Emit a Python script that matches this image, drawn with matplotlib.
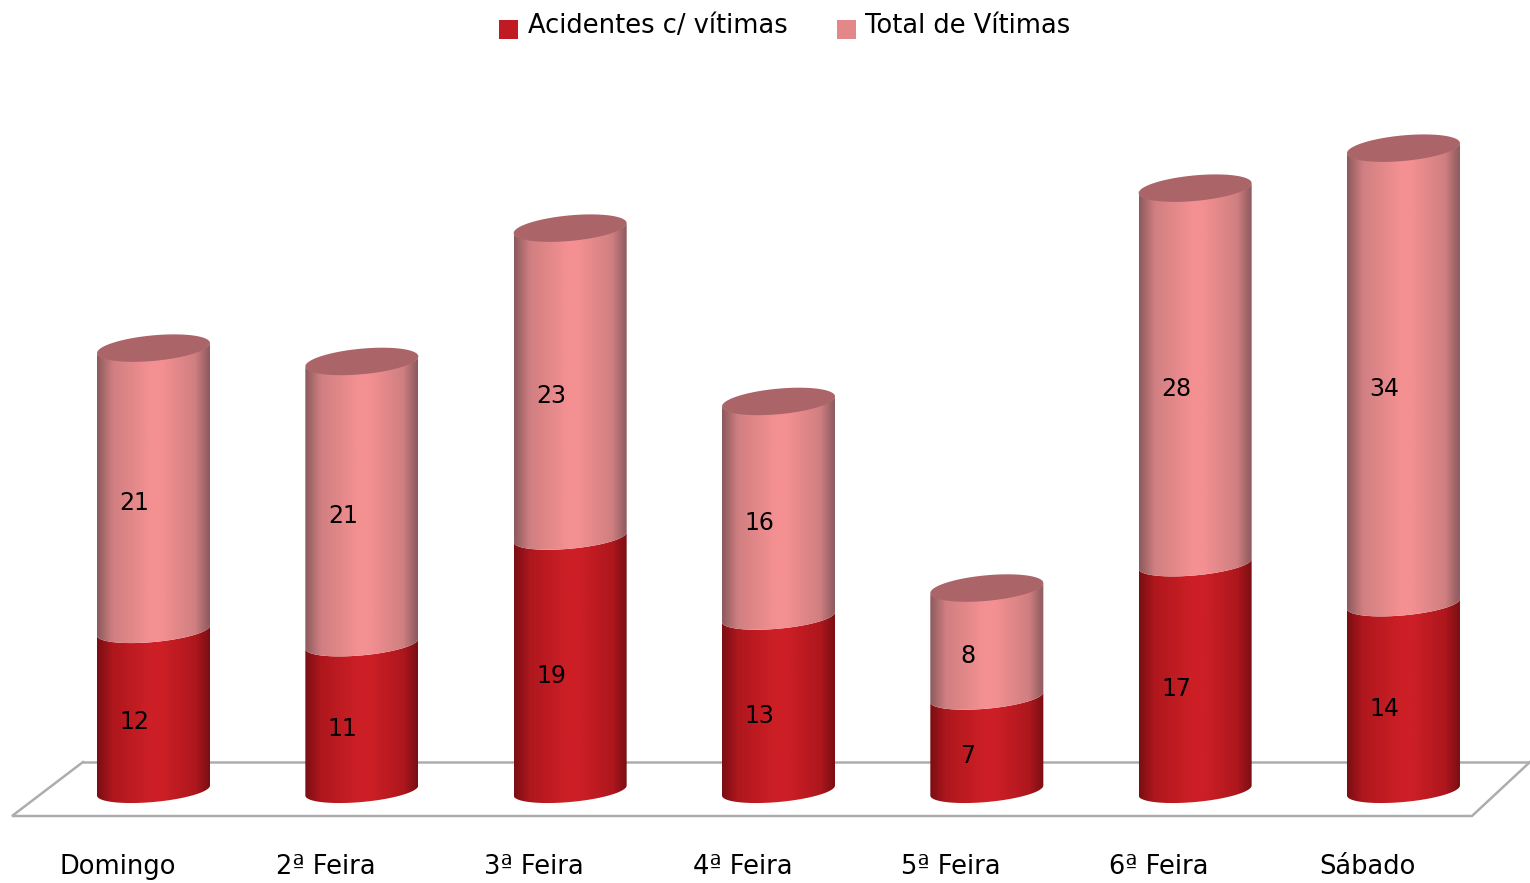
import matplotlib
matplotlib.use('Agg')
import matplotlib.pyplot as plt
import numpy as np
from matplotlib.colors import LinearSegmentedColormap
from matplotlib.patches import Patch, Polygon

dias = ['Domingo', '2ª Feira', '3ª Feira', '4ª Feira', '5ª Feira', '6ª Feira', 'Sábado']
acidentes = [12, 11, 19, 13, 7, 17, 14]
vitimas = [21, 21, 23, 16, 8, 28, 34]
nomes = ['Acidentes c/ vítimas', 'Total de Vítimas']

# pixels of the 1530x883 picture per unit of each axis
px_x = 208.33
px_y = 13.33
x0_px = 153.5
y0_px = 790.5

largura = 113 / px_x
elipse_b = 11.5 / px_y
elipse_top = 12.8 / px_y
elipse_inc = 5.0 / px_y
topo_extra = 2.5 / px_y

fig = plt.figure(figsize=(15.3, 8.83), dpi=100)
ax = fig.add_axes([0, 0, 1, 1])
ax.axis('off')


def shade_cmap(edge, mid, light):
    return LinearSegmentedColormap.from_list('c', [(0, edge), (0.14, mid), (0.47, light), (0.57, light),
                                                   (0.87, mid), (1, edge)])


cmap_red = shade_cmap('#7a0e13', '#ae171d', '#cd1f26')
cmap_pink = shade_cmap('#8c5a5d', '#d07f81', '#f49092')
grad = np.linspace(0, 1, 256).reshape(1, -1)


def front_arc(cx, y, n=60):
    t = np.linspace(np.pi, 0, n)
    xs = cx + largura / 2 * np.cos(t)
    ys = y - elipse_b * np.sin(t) + elipse_inc * np.cos(t)
    return xs, ys


def segment(cx, y1, y2, cmap):
    xb, yb = front_arc(cx, y1)
    xt, yt = front_arc(cx, y2)
    pts = np.vstack([np.column_stack([xb, yb]), np.column_stack([xt[::-1], yt[::-1]])])
    im = ax.imshow(grad, cmap=cmap, aspect='auto', zorder=3, interpolation='bilinear',
                   extent=[cx - largura / 2, cx + largura / 2, y1 - 2, y2 + 2])
    clip = Polygon(pts, transform=ax.transData, fc='none', ec='none')
    ax.add_patch(clip)
    im.set_clip_path(clip)


# floor, placed from the picture in axes fraction
fx = np.array([12, 1472, 1545, 83, 12]) / 1530
fy = 1 - np.array([816, 816, 748, 762, 816]) / 883
ax.plot(fx[[3, 0, 1, 2]], fy[[3, 0, 1, 2]], transform=ax.transAxes, color='#adadad', lw=1.8, zorder=1, solid_joinstyle='miter')
ax.plot([fx[3], 1], [fy[3], fy[3]], transform=ax.transAxes, color='#adadad', lw=1.8, zorder=1)

for i in range(len(dias)):
    a = acidentes[i]
    v = vitimas[i]
    segment(i, 0, a, cmap_red)
    segment(i, a, a + v + topo_extra, cmap_pink)
    # top of the cylinder
    t = np.linspace(0, 2 * np.pi, 120)
    ax.fill(i + largura / 2 * np.cos(t), a + v + topo_extra + elipse_top * np.sin(t) + elipse_inc * np.cos(t),
            color='#ab6468', lw=0, zorder=4)
    ax.annotate(str(a), (i, a / 2), xytext=(-13.7, -8.6), textcoords='offset points',
                ha='center', va='center', fontsize=17, color='black', zorder=5)
    ax.annotate(str(v), (i, a + v / 2), xytext=(-13.7, -8.6), textcoords='offset points',
                ha='center', va='center', fontsize=17, color='black', zorder=5)
    ax.annotate(dias[i], (i, 0), xytext=(-26, -55), textcoords='offset points',
                ha='center', va='center', fontsize=18.5, color='black', zorder=5)

ax.set_xlim(-x0_px / px_x, (1530 - x0_px) / px_x)
ax.set_ylim((y0_px - 883) / px_y, y0_px / px_y)

handles = [Patch(fc='#c01b22', ec='none'), Patch(fc='#e48789', ec='none')]
leg = ax.legend(handles, nomes, ncol=2, frameon=False, fontsize=18.5, loc='upper center',
                bbox_to_anchor=(785 / 1530, 1 - 8 / 883), handlelength=0.74, handleheight=0.74,
                handletextpad=0.38, columnspacing=1.9, borderpad=0.2, borderaxespad=0)
# squares sit a little under the text baseline
for h in leg.legend_handles:
    h.set_y(h.get_y() - 3.7)

fig.savefig('out.png', dpi=100, facecolor='white')
